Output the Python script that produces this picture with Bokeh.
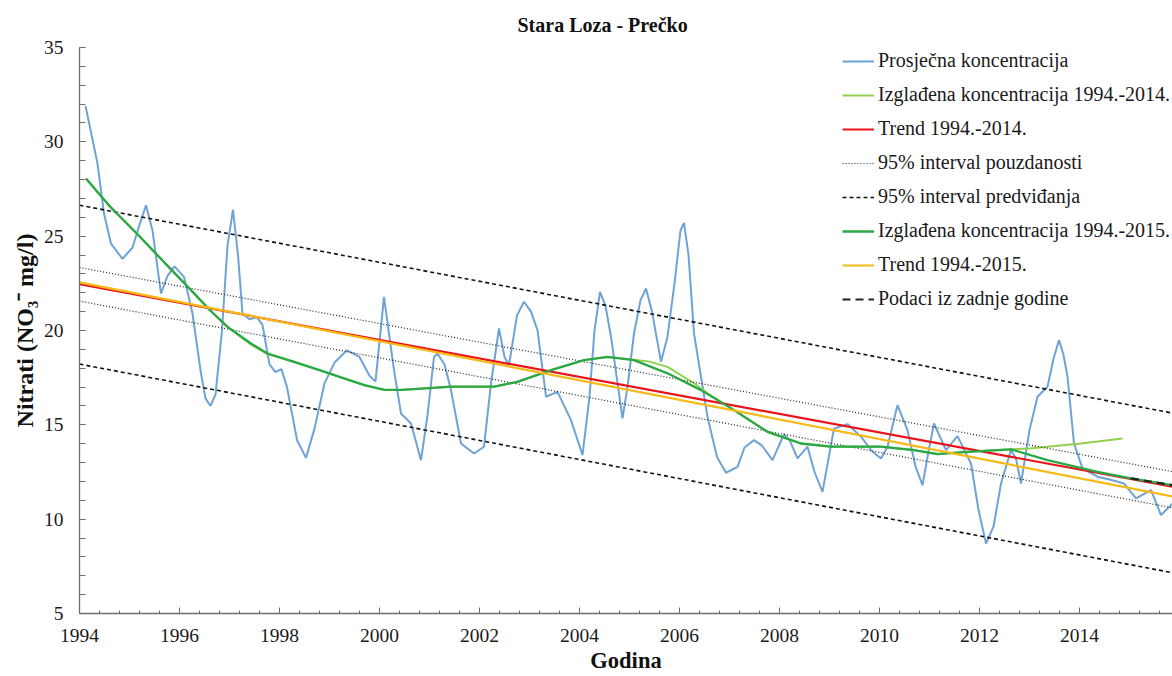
from bokeh.plotting import figure
from bokeh.models import SingleIntervalTicker, Legend, LegendItem, Range1d
from bokeh.embed import file_html
from bokeh.resources import INLINE

# ---- data ----
blue_years = [1994.12, 1994.36, 1994.49, 1994.63, 1994.86, 1995.06, 1995.20, 1995.33, 1995.46, 1995.63,
              1995.76, 1995.90, 1996.09, 1996.26, 1996.43, 1996.52, 1996.62, 1996.72, 1996.85, 1996.96,
              1997.07, 1997.17, 1997.26, 1997.40, 1997.55, 1997.66, 1997.80, 1997.92, 1998.04, 1998.15,
              1998.35, 1998.53, 1998.70, 1998.90, 1999.10, 1999.35, 1999.60, 1999.80, 1999.92, 2000.09,
              2000.29, 2000.43, 2000.63, 2000.83, 2000.96, 2001.09, 2001.16, 2001.30, 2001.43, 2001.63,
              2001.89, 2002.09, 2002.23, 2002.39, 2002.50, 2002.59, 2002.75, 2002.89, 2003.03, 2003.16,
              2003.33, 2003.56, 2003.83, 2004.06, 2004.20, 2004.30, 2004.41, 2004.52, 2004.63, 2004.86,
              2004.96, 2005.09, 2005.22, 2005.33, 2005.45, 2005.63, 2005.76, 2005.90, 2006.02, 2006.09,
              2006.18, 2006.29, 2006.56, 2006.75, 2006.93, 2007.16, 2007.30, 2007.49, 2007.65, 2007.86,
              2008.09, 2008.20, 2008.36, 2008.56, 2008.70, 2008.86, 2009.00, 2009.09, 2009.36, 2009.63,
              2009.85, 2010.03, 2010.16, 2010.36, 2010.56, 2010.72, 2010.86, 2010.98, 2011.09, 2011.33,
              2011.56, 2011.83, 2011.98, 2012.13, 2012.28, 2012.43, 2012.63, 2012.73, 2012.83, 2013.00,
              2013.16, 2013.36, 2013.48, 2013.59, 2013.68, 2013.76, 2013.89, 2014.06, 2014.36, 2014.60,
              2014.89, 2015.13, 2015.43, 2015.63, 2015.87]
blue_values = [31.9, 28.85, 26.2, 24.6, 23.8, 24.4, 25.6, 26.64, 25.3, 21.96,
               22.9, 23.4, 22.84, 20.9, 17.72, 16.4, 16.0, 16.6, 20.0, 24.5,
               26.4, 24.0, 20.9, 20.6, 20.7, 20.3, 18.2, 17.8, 17.95, 17.0,
               14.2, 13.25, 14.8, 17.2, 18.3, 18.95, 18.6, 17.6, 17.3, 21.78,
               17.9, 15.6, 15.07, 13.13, 15.5, 18.6, 18.78, 18.2, 16.84, 14.01,
               13.48, 13.84, 17.19, 20.11, 18.6, 18.17, 20.8, 21.52, 21.0, 20.02,
               16.49, 16.75, 15.25, 13.4, 16.5, 20.0, 22.05, 21.3, 19.67, 15.34,
               17.0, 19.84, 21.6, 22.23, 21.0, 18.34, 19.67, 22.5, 25.3, 25.7,
               24.0, 19.84, 15.42, 13.3, 12.46, 12.77, 13.8, 14.19, 13.9, 13.13,
               14.5, 14.2, 13.22, 13.84, 12.5, 11.45, 13.5, 14.8, 15.04, 14.37,
               13.6, 13.22, 13.84, 16.05, 14.72, 12.8, 11.8, 13.6, 15.07, 13.66,
               14.4, 12.95, 10.5, 8.71, 9.6, 11.89, 13.66, 13.2, 11.89, 14.72,
               16.49, 17.02, 18.5, 19.49, 18.7, 17.55, 14.01, 12.69, 12.25, 12.1,
               11.89, 11.1, 11.54, 10.22, 10.85]

green15_years = [1994.13, 1994.60, 1995.16, 1995.70, 1996.23, 1996.60, 1996.96, 1997.43, 1997.76, 1998.29,
                 1998.80, 1999.29, 1999.70, 2000.10, 2000.43, 2001.00, 2001.43, 2002.29, 2002.76, 2003.43,
                 2004.09, 2004.56, 2005.09, 2005.76, 2006.43, 2007.09, 2007.76, 2008.43, 2009.03, 2010.03,
                 2010.69, 2011.16, 2011.76, 2012.63, 2013.36, 2014.36, 2015.03, 2015.87]
green15_values = [28.05, 26.6, 25.1, 23.6, 22.14, 21.1, 20.19, 19.31, 18.78, 18.34,
                  17.9, 17.46, 17.1, 16.85, 16.85, 16.95, 17.02, 17.02, 17.28, 17.9,
                  18.43, 18.6, 18.43, 17.73, 16.84, 15.78, 14.63, 14.01, 13.84, 13.84,
                  13.66, 13.45, 13.57, 13.7, 13.13, 12.51, 12.16, 11.8]

green14_years = [1994.13, 1994.60, 1995.16, 1995.70, 1996.23, 1996.60, 1996.96, 1997.43, 1997.76, 1998.29,
                 1998.80, 1999.29, 1999.70, 2000.10, 2000.43, 2001.00, 2001.43, 2002.29, 2002.76, 2003.43,
                 2004.09, 2004.56, 2005.09, 2005.40, 2005.76, 2006.30, 2006.55, 2007.09, 2007.76, 2008.43,
                 2009.03, 2010.03, 2010.69, 2011.16, 2011.76, 2012.63, 2013.00, 2013.36, 2014.03, 2014.86]
green14_values = [28.05, 26.6, 25.1, 23.6, 22.14, 21.1, 20.19, 19.25, 18.75, 18.34,
                  17.9, 17.46, 17.1, 16.85, 16.85, 16.95, 17.02, 17.02, 17.28, 17.9,
                  18.43, 18.6, 18.45, 18.35, 18.07, 17.19, 16.7, 15.78, 14.63, 14.01,
                  13.84, 13.84, 13.66, 13.45, 13.57, 13.7, 13.75, 13.84, 14.01, 14.28]

trend_years = [1994, 2016]
trend14_values = [22.45, 11.65]
trend15_values = [22.55, 11.13]
conf_upper = [23.34, 12.45]
conf_lower = [21.56, 10.53]
pred_upper = [26.64, 15.55]
pred_lower = [18.22, 7.09]

last_years = [2015.03, 2015.87]
last_values = [12.16, 11.80]

labels = ["Prosječna koncentracija",
          "Izglađena koncentracija 1994.-2014.",
          "Trend 1994.-2014.",
          "95% interval pouzdanosti",
          "95% interval predviđanja",
          "Izglađena koncentracija 1994.-2015.",
          "Trend 1994.-2015.",
          "Podaci iz zadnje godine"]

FONT = "Liberation Serif"

p = figure(width=1172, height=676, x_range=Range1d(1994, 2015.86), y_range=Range1d(5, 35),
           output_backend="svg", toolbar_location=None,
           min_border_left=79, min_border_right=0, min_border_top=47, min_border_bottom=63)

p.title.text = "Stara Loza - Prečko"
p.title.text_font = FONT
p.title.text_font_size = "20px"
p.title.text_font_style = "bold"
p.title.align = "left"
p.title.offset = 438
p.title.standoff = 23
p.title.text_color = "#111111"

p.xgrid.visible = False
p.ygrid.visible = False
p.outline_line_color = None
p.background_fill_color = "white"
p.border_fill_color = "white"

p.xaxis.ticker = SingleIntervalTicker(interval=2, num_minor_ticks=5)
p.yaxis.ticker = SingleIntervalTicker(interval=5, num_minor_ticks=5)
for ax in (p.xaxis[0], p.yaxis[0]):
    ax.axis_line_color = "#6e6e6e"
    ax.axis_line_width = 1.3
    ax.major_tick_line_color = "#6e6e6e"
    ax.minor_tick_line_color = "#6e6e6e"
    ax.major_tick_out = 0
    ax.minor_tick_out = 0
    ax.major_label_text_font = FONT
    ax.major_label_text_font_size = "19.5px"
    ax.major_label_text_color = "#1a1a1a"
    ax.axis_label_text_font = FONT
    ax.axis_label_text_font_style = "bold"
    ax.axis_label_text_color = "#111111"
p.xaxis.axis_label_text_font_size = "22.5px"
p.yaxis.axis_label_text_font_size = "24px"
p.xaxis.major_tick_in = 6
p.xaxis.minor_tick_in = 3
p.yaxis.major_tick_in = 6
p.yaxis.minor_tick_in = 6
p.xaxis.major_label_standoff = 15
p.yaxis.major_label_standoff = 16
p.xaxis.axis_label = "Godina"
p.yaxis.axis_label = "Nitrati (NO₃⁻ mg/l)"
p.xaxis.axis_label_standoff = 3
p.yaxis.axis_label_standoff = 3

r_blue = p.line(blue_years, blue_values, line_color="#6fa3d6", line_width=2)
r_g14 = p.line(green14_years, green14_values, line_color="#92d050", line_width=2)
r_red = p.line(trend_years, trend14_values, line_color="#e8141a", line_width=2.2)
r_cu = p.line(trend_years, conf_upper, line_color="#222222", line_width=1.2, line_dash="1 2")
p.line(trend_years, conf_lower, line_color="#222222", line_width=1.2, line_dash="1 2")
r_pu = p.line(trend_years, pred_upper, line_color="#111111", line_width=1.6, line_dash="4 3")
p.line(trend_years, pred_lower, line_color="#111111", line_width=1.6, line_dash="4 3")
r_g15 = p.line(green15_years, green15_values, line_color="#2aa845", line_width=2.3)
r_yel = p.line(trend_years, trend15_values, line_color="#f7b916", line_width=2.2)
r_last = p.line(last_years, last_values, line_color="#222222", line_width=2.2, line_dash="8 5")

renderers = [r_blue, r_g14, r_red, r_cu, r_pu, r_g15, r_yel, r_last]
legend = Legend(items=[LegendItem(label=l, renderers=[r]) for l, r in zip(labels, renderers)],
                location=(763, 303))
legend.label_text_font = FONT
legend.label_text_font_size = "20px"
legend.label_text_color = "#1a1a1a"
legend.glyph_width = 32
legend.glyph_height = 20
legend.label_height = 20
legend.label_standoff = 4
legend.spacing = 11
legend.padding = 0
legend.margin = 0
legend.border_line_color = None
legend.background_fill_alpha = 0
p.add_layout(legend)

open("out.html", "w").write(file_html(p, INLINE))
